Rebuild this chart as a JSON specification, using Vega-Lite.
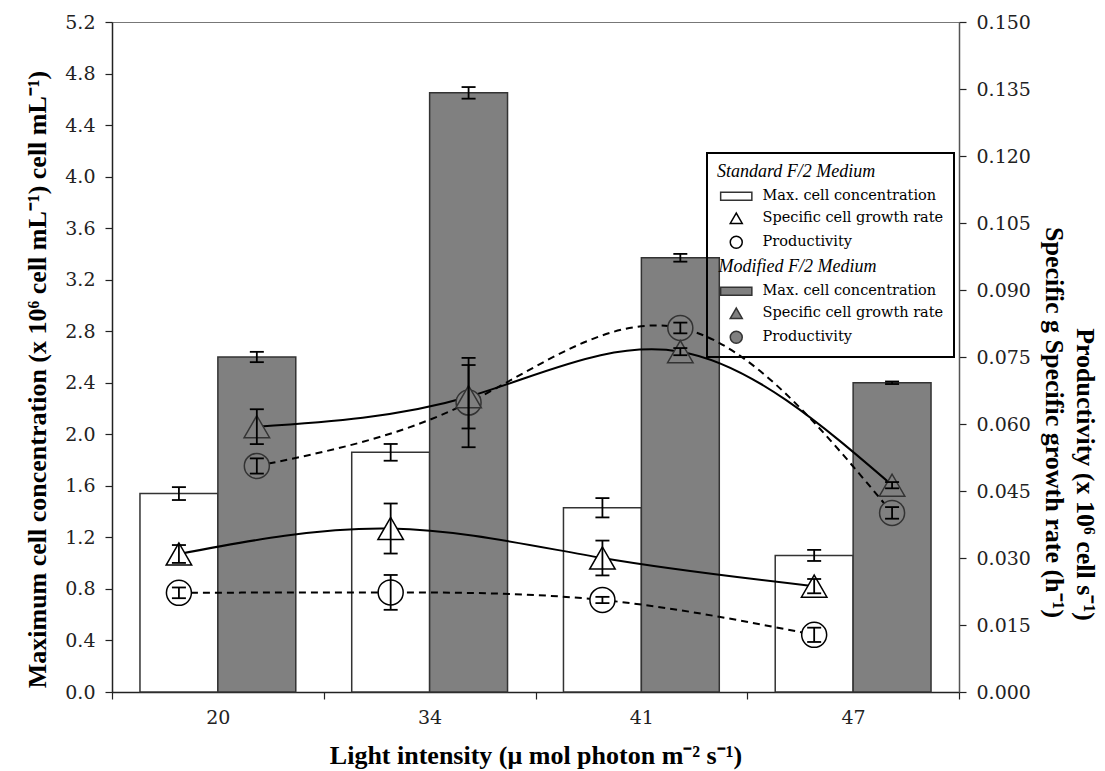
{
  "$schema": "https://vega.github.io/schema/vega-lite/v6.json",
  "width": 847,
  "height": 670,
  "autosize": {"type": "none"},
  "padding": {"left": 112, "top": 22, "right": 146, "bottom": 79},
  "background": "white",
  "datasets": {
    "d": [
      {"light": 20, "medium": "Standard", "measure": "conc", "key": "s1", "value": 1.54, "lo": 1.49, "hi": 1.59},
      {"light": 20, "medium": "Modified", "measure": "conc", "key": "m1", "value": 2.60, "lo": 2.56, "hi": 2.64},
      {"light": 34, "medium": "Standard", "measure": "conc", "key": "s1", "value": 1.86, "lo": 1.795, "hi": 1.925},
      {"light": 34, "medium": "Modified", "measure": "conc", "key": "m1", "value": 4.65, "lo": 4.605, "hi": 4.695},
      {"light": 41, "medium": "Standard", "measure": "conc", "key": "s1", "value": 1.43, "lo": 1.355, "hi": 1.505},
      {"light": 41, "medium": "Modified", "measure": "conc", "key": "m1", "value": 3.37, "lo": 3.34, "hi": 3.40},
      {"light": 47, "medium": "Standard", "measure": "conc", "key": "s1", "value": 1.06, "lo": 1.017, "hi": 1.103},
      {"light": 47, "medium": "Modified", "measure": "conc", "key": "m1", "value": 2.40, "lo": 2.39, "hi": 2.41},
      {"light": 20, "medium": "Standard", "measure": "rate", "key": "s2", "value": 0.0309, "lo": 0.0289, "hi": 0.0329},
      {"light": 20, "medium": "Modified", "measure": "rate", "key": "m2", "value": 0.0594, "lo": 0.0555, "hi": 0.0633},
      {"light": 34, "medium": "Standard", "measure": "rate", "key": "s2", "value": 0.0366, "lo": 0.0310, "hi": 0.0422},
      {"light": 34, "medium": "Modified", "measure": "rate", "key": "m2", "value": 0.0661, "lo": 0.0590, "hi": 0.0732},
      {"light": 41, "medium": "Standard", "measure": "rate", "key": "s2", "value": 0.0300, "lo": 0.0261, "hi": 0.0339},
      {"light": 41, "medium": "Modified", "measure": "rate", "key": "m2", "value": 0.0762, "lo": 0.0754, "hi": 0.0770},
      {"light": 47, "medium": "Standard", "measure": "rate", "key": "s2", "value": 0.0237, "lo": 0.0221, "hi": 0.0253},
      {"light": 47, "medium": "Modified", "measure": "rate", "key": "m2", "value": 0.0463, "lo": 0.0456, "hi": 0.0470},
      {"light": 20, "medium": "Standard", "measure": "prod", "key": "s3", "value": 0.0222, "lo": 0.0210, "hi": 0.0234},
      {"light": 20, "medium": "Modified", "measure": "prod", "key": "m3", "value": 0.0506, "lo": 0.0489, "hi": 0.0523},
      {"light": 34, "medium": "Standard", "measure": "prod", "key": "s3", "value": 0.0223, "lo": 0.0184, "hi": 0.0262},
      {"light": 34, "medium": "Modified", "measure": "prod", "key": "m3", "value": 0.0648, "lo": 0.0548, "hi": 0.0748},
      {"light": 41, "medium": "Standard", "measure": "prod", "key": "s3", "value": 0.0206, "lo": 0.0199, "hi": 0.0213},
      {"light": 41, "medium": "Modified", "measure": "prod", "key": "m3", "value": 0.0815, "lo": 0.0803, "hi": 0.0827},
      {"light": 47, "medium": "Standard", "measure": "prod", "key": "s3", "value": 0.0128, "lo": 0.0112, "hi": 0.0144},
      {"light": 47, "medium": "Modified", "measure": "prod", "key": "m3", "value": 0.0401, "lo": 0.0388, "hi": 0.0414}
    ]
  },
  "data": {"name": "d"},
  "config": {
    "font": "Liberation Serif",
    "view": {"stroke": "#777", "strokeWidth": 1},
    "axis": {
      "labelFont": "DejaVu Serif", "labelFontSize": 19, "labelColor": "#222",
      "titleFont": "Liberation Serif", "titleFontSize": 26, "titleFontWeight": "bold", "titleColor": "#000",
      "grid": false, "domainColor": "#222", "tickColor": "#222", "tickSize": 7, "domainWidth": 1.5, "tickWidth": 1.2
    },
    "legend": {
      "orient": "none", "legendX": 595, "legendY": 131,
      "titleFont": "Liberation Serif", "titleFontSize": 18, "titleFontStyle": "italic", "titleFontWeight": "normal", "titleColor": "#000", "titlePadding": 8,
      "labelFont": "DejaVu Serif", "labelFontSize": 14.5, "labelColor": "#000", "labelLimit": 300,
      "symbolSize": 144, "symbolStrokeWidth": 1.5, "symbolOffset": 12, "labelOffset": 19, "rowPadding": 6,
      "padding": 10, "strokeColor": "#000"
    }
  },
  "encoding": {
    "x": {
      "field": "light", "type": "ordinal",
      "scale": {"paddingInner": 0, "paddingOuter": 0},
      "axis": {"title": "Light intensity (μ mol photon m⁻² s⁻¹)", "tickBand": "extent", "labelAngle": 0, "labelPadding": 9, "titlePadding": 15}
    },
    "xOffset": {"field": "medium", "type": "nominal", "scale": {"domain": ["Standard", "Modified"], "paddingInner": 0, "paddingOuter": 0.359}}
  },
  "layer": [
    {
      "transform": [{"filter": "datum.measure === 'conc'"}],
      "encoding": {
        "y": {
          "field": "value", "type": "quantitative",
          "scale": {"domain": [0, 5.2], "nice": false, "zero": true},
          "axis": {
            "title": "Maximum cell concentration (x 10⁶ cell mL⁻¹)   cell mL⁻¹)",
            "values": [0, 0.4, 0.8, 1.2, 1.6, 2.0, 2.4, 2.8, 3.2, 3.6, 4.0, 4.4, 4.8, 5.2],
            "format": ".1f", "labelPadding": 10, "titlePadding": 14, "titleY": 357
          }
        }
      },
      "layer": [
        {
          "mark": {"type": "bar", "strokeWidth": 1.5},
          "encoding": {
            "fill": {
              "field": "key", "type": "nominal",
              "scale": {"domain": ["s1", "s2", "s3", "m0", "m1", "m2", "m3"], "range": ["#ffffff", "#ffffff", "#ffffff", "transparent", "#808080", "#808080", "#808080"]},
              "legend": {
                "title": "Standard F/2 Medium",
                "labelExpr": "{'s1':'Max. cell concentration','s2':'Specific cell growth rate','s3':'Productivity','m0':'Modified F/2 Medium','m1':'Max. cell concentration','m2':'Specific cell growth rate','m3':'Productivity'}[datum.value]",
                "encode": {
                  "labels": {"update": {"font": {"signal": "datum.value === 'm0' ? 'Liberation Serif' : 'DejaVu Serif'"}, "fontSize": {"signal": "datum.value === 'm0' ? 18 : 14.5"}, "fontStyle": {"signal": "datum.value === 'm0' ? 'italic' : 'normal'"}, "dx": {"signal": "datum.value === 'm0' ? -44 : 0"}}},
                  "symbols": {"update": {"shape": {"signal": "(datum.value === 's2' || datum.value === 'm2') ? 'M-2.1,0.45H2.1M0,-0.85L0.95,0.6H-0.95Z' : ((datum.value === 's3' || datum.value === 'm3') ? 'M-2.1,0H2.1M-0.85,0A0.85,0.85 0 1,0 0.85,0A0.85,0.85 0 1,0 -0.85,0Z' : 'M-2.6,-0.65H2.6V0.65H-2.6Z')"}}},
                  "legend": {"update": {"strokeWidth": {"value": 2}}}
                }
              }
            },
            "stroke": {
              "field": "key", "type": "nominal",
              "scale": {"domain": ["s1", "s2", "s3", "m0", "m1", "m2", "m3"], "range": ["#333333", "#000000", "#000000", "transparent", "#333333", "#333333", "#333333"]},
              "legend": {
                "title": "Standard F/2 Medium",
                "labelExpr": "{'s1':'Max. cell concentration','s2':'Specific cell growth rate','s3':'Productivity','m0':'Modified F/2 Medium','m1':'Max. cell concentration','m2':'Specific cell growth rate','m3':'Productivity'}[datum.value]",
                "encode": {
                  "labels": {"update": {"font": {"signal": "datum.value === 'm0' ? 'Liberation Serif' : 'DejaVu Serif'"}, "fontSize": {"signal": "datum.value === 'm0' ? 18 : 14.5"}, "fontStyle": {"signal": "datum.value === 'm0' ? 'italic' : 'normal'"}, "dx": {"signal": "datum.value === 'm0' ? -44 : 0"}}},
                  "symbols": {"update": {"shape": {"signal": "(datum.value === 's2' || datum.value === 'm2') ? 'M-2.1,0.45H2.1M0,-0.85L0.95,0.6H-0.95Z' : ((datum.value === 's3' || datum.value === 'm3') ? 'M-2.1,0H2.1M-0.85,0A0.85,0.85 0 1,0 0.85,0A0.85,0.85 0 1,0 -0.85,0Z' : 'M-2.6,-0.65H2.6V0.65H-2.6Z')"}}},
                  "legend": {"update": {"strokeWidth": {"value": 2}}}
                }
              }
            }
          }
        },
        {
          "mark": {"type": "rule", "color": "#000", "strokeWidth": 1.8},
          "encoding": {"y": {"field": "lo", "type": "quantitative"}, "y2": {"field": "hi"}}
        },
        {
          "mark": {"type": "tick", "color": "#000", "size": 14, "thickness": 1.8, "opacity": 1},
          "encoding": {"y": {"field": "lo", "type": "quantitative"}}
        },
        {
          "mark": {"type": "tick", "color": "#000", "size": 14, "thickness": 1.8, "opacity": 1},
          "encoding": {"y": {"field": "hi", "type": "quantitative"}}
        }
      ]
    },
    {
      "transform": [{"filter": "datum.measure !== 'conc'"}],
      "encoding": {
        "y": {
          "field": "value", "type": "quantitative",
          "scale": {"domain": [0, 0.15], "nice": false, "zero": true},
          "axis": {
            "orient": "right",
            "title": "Specific g Specific growth rate (h⁻¹)",
            "values": [0, 0.015, 0.03, 0.045, 0.06, 0.075, 0.09, 0.105, 0.12, 0.135, 0.15],
            "format": ".3f", "labelPadding": 10, "titlePadding": 10, "titleY": 400, "domainColor": "#555"
          }
        }
      },
      "layer": [
        {
          "transform": [{"filter": "datum.measure === 'rate'"}],
          "mark": {"type": "line", "color": "#000", "strokeWidth": 2, "interpolate": "natural"},
          "encoding": {"detail": {"field": "medium"}}
        },
        {
          "transform": [{"filter": "datum.measure === 'prod'"}],
          "mark": {"type": "line", "color": "#000", "strokeWidth": 2, "strokeDash": [7, 5], "interpolate": "natural"},
          "encoding": {"detail": {"field": "medium"}}
        },
        {
          "transform": [{"filter": "datum.measure === 'prod'"}],
          "mark": {"type": "point", "filled": false, "size": 625, "strokeWidth": 1.5, "opacity": 1},
          "encoding": {
            "shape": {"field": "key", "type": "nominal", "scale": {"domain": ["s1", "s2", "s3", "m0", "m1", "m2", "m3"], "range": ["M-2.6,-0.65H2.6V0.65H-2.6Z", "triangle-up", "circle", "circle", "M-2.6,-0.65H2.6V0.65H-2.6Z", "triangle-up", "circle"]}, "legend": {"title": "Standard F/2 Medium"}},
            "fill": {"field": "key", "type": "nominal"},
            "stroke": {"field": "key", "type": "nominal"}
          }
        },
        {
          "transform": [{"filter": "datum.measure === 'rate'"}],
          "mark": {"type": "point", "filled": false, "size": 650, "strokeWidth": 1.5, "opacity": 1},
          "encoding": {
            "shape": {"field": "key", "type": "nominal", "legend": {"title": "Standard F/2 Medium"}},
            "fill": {"field": "key", "type": "nominal"},
            "stroke": {"field": "key", "type": "nominal"}
          }
        },
        {
          "mark": {"type": "rule", "color": "#000", "strokeWidth": 1.8},
          "encoding": {"y": {"field": "lo", "type": "quantitative"}, "y2": {"field": "hi"}}
        },
        {
          "mark": {"type": "tick", "color": "#000", "size": 14, "thickness": 1.8, "opacity": 1},
          "encoding": {"y": {"field": "lo", "type": "quantitative"}}
        },
        {
          "mark": {"type": "tick", "color": "#000", "size": 14, "thickness": 1.8, "opacity": 1},
          "encoding": {"y": {"field": "hi", "type": "quantitative"}}
        }
      ]
    },
    {
      "transform": [{"filter": "datum.measure === 'prod'"}],
      "mark": {"type": "tick", "opacity": 0},
      "encoding": {
        "y": {
          "field": "value", "type": "quantitative",
          "scale": {"domain": [0, 0.15], "nice": false, "zero": true},
          "axis": {
            "orient": "right", "title": "Productivity (x 10⁶ cell s⁻¹)",
            "labels": false, "ticks": false, "domain": false,
            "offset": 112, "titlePadding": 0, "titleY": 452
          }
        }
      }
    }
  ],
  "resolve": {"scale": {"y": "independent"}, "axis": {"y": "independent"}}
}
